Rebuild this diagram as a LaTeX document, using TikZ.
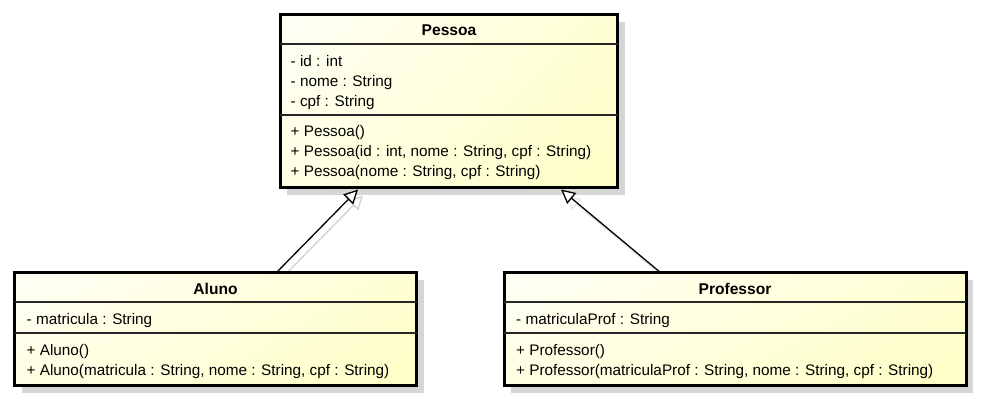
\documentclass[tikz,border=0pt]{standalone}
\usepackage{fontspec}
\setmainfont{Liberation Sans}
\usetikzlibrary{arrows.meta,shadows,shadings,calc}
\definecolor{ylTL}{RGB}{255,255,246}
\definecolor{ylTR}{RGB}{255,255,212}
\definecolor{ylBL}{RGB}{255,255,228}
\definecolor{ylBR}{RGB}{255,255,198}
\definecolor{shadowgray}{RGB}{214,214,214}
\begin{document}
\begin{tikzpicture}[x=1pt,y=1pt,
  clsbase/.style={draw=black, line width=3pt, anchor=north west, inner sep=0pt, outer sep=0pt,
    upper left=ylTL, upper right=ylTR, lower left=ylBL, lower right=ylBR},
  cls/.style={clsbase,
    drop shadow={shadow xshift=7pt, shadow yshift=-7pt, fill=shadowgray, draw=none, opacity=1}},
  divider/.style={draw=black!85, line width=1.1pt},
  title/.style={anchor=base, inner sep=0pt, font=\fontsize{15.6}{18}\selectfont\bfseries},
  mem/.style={anchor=base west, inner sep=0pt, font=\fontsize{15.3}{18}\selectfont},
  gen/.style={draw=black, line width=1.3pt, -{Triangle[length=14pt,width=14pt,fill=white]}},
  genshadow/.style={draw=black!18, line width=1.3pt, -{Triangle[length=14pt,width=14pt,fill=white]}},
]
\useasboundingbox (0,0) rectangle (981,401);

% class boxes
\node[cls, minimum width=337.5pt, minimum height=173pt] (pessoa) at (280,386) {};
\node[cls, minimum width=402pt, minimum height=113pt] (aluno) at (14.5,128) {};
\node[cls, minimum width=462pt, minimum height=113pt] (professor) at (504,128) {};

% connector end points
\coordinate (aTail) at ($(aluno.north west)+(261.5,0)$);
\coordinate (aHead) at ($(pessoa.south west)+(78,-1.5)$);
\coordinate (pTail) at ($(professor.north west)+(157,0)$);
\coordinate (pHead) at ($(pessoa.south west)+(281,-1.5)$);

% arrow shadows
\draw[genshadow] ($(aTail)+(5,-6)$) -- ($(aHead)+(5,-6)$);
\draw[genshadow, draw=black!10] ($(pTail)+(5,-6)$) -- ($(pHead)+(5,-6)$);

% redraw boxes over the shadows
\node[clsbase, minimum width=337.5pt, minimum height=173pt] (pessoaF) at (280,386) {};
\node[clsbase, minimum width=402pt, minimum height=113pt] (alunoF) at (14.5,128) {};
\node[clsbase, minimum width=462pt, minimum height=113pt] (professorF) at (504,128) {};

% dividers
\draw[divider] (pessoa.west |- 0,357) -- (pessoa.east |- 0,357);
\draw[divider] (pessoa.west |- 0,286) -- (pessoa.east |- 0,286);
\draw[divider] (aluno.west |- 0,99) -- (aluno.east |- 0,99);
\draw[divider] (aluno.west |- 0,68) -- (aluno.east |- 0,68);
\draw[divider] (professor.west |- 0,99) -- (professor.east |- 0,99);
\draw[divider] (professor.west |- 0,68) -- (professor.east |- 0,68);

% Pessoa texts
\node[title] (pt) at (449,365.5) {Pessoa};
\node[mem] (p1) at (290.5,334.5) {- id : int};
\node[mem] (p2) at (290.5,314.5) {- nome : String};
\node[mem] (p3) at (290.5,294.5) {- cpf : String};
\node[mem] (p4) at (290.5,264.5) {+ Pessoa()};
\node[mem] (p5) at (290.5,244.5) {+ Pessoa(id : int, nome : String, cpf : String)};
\node[mem] (p6) at (290.5,224.5) {+ Pessoa(nome : String, cpf : String)};

% Aluno texts
\node[title] (at) at (215.5,106.5) {Aluno};
\node[mem] (a1) at (26.5,76.5) {- matricula : String};
\node[mem] (a2) at (26.5,45.5) {+ Aluno()};
\node[mem] (a3) at (26.5,25.5) {+ Aluno(matricula : String, nome : String, cpf : String)};

% Professor texts
\node[title] (prt) at (735,106.5) {Professor};
\node[mem] (r1) at (516,76.5) {- matriculaProf : String};
\node[mem] (r2) at (516,45.5) {+ Professor()};
\node[mem] (r3) at (516,25.5) {+ Professor(matriculaProf : String, nome : String, cpf : String)};

% generalisation connectors
\draw[gen] (aTail) -- (aHead);
\draw[gen] (pTail) -- (pHead);
\end{tikzpicture}
\end{document}
